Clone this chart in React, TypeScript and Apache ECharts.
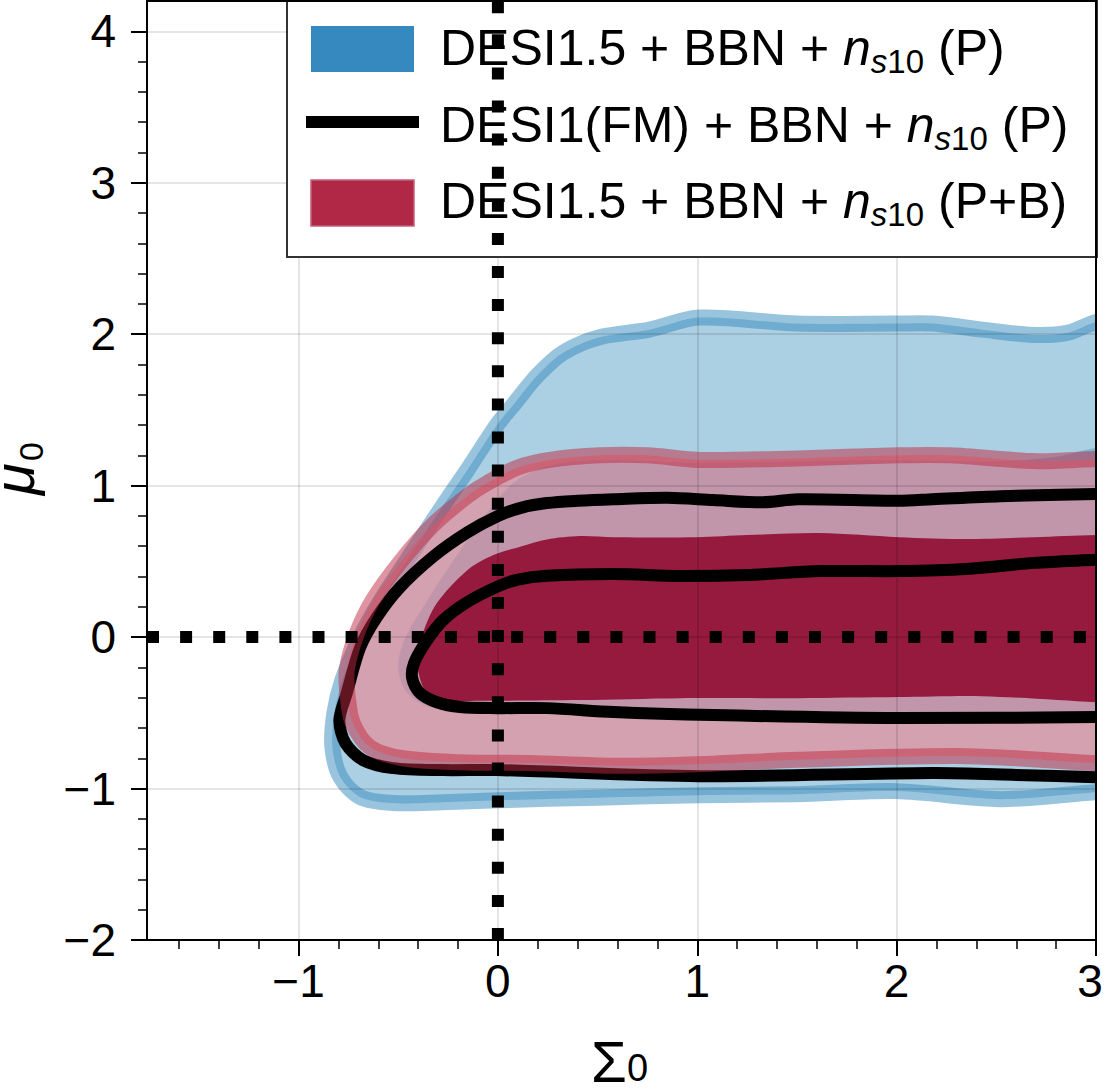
import React, { useEffect, useRef } from 'react';
import * as echarts from 'echarts';

const FONT = '"Liberation Sans", Arial, Helvetica, sans-serif';

// axis ranges
const X_MIN = -1.76;
const X_MAX = 3;
const Y_MIN = -2;
const Y_MAX = 4.2;

// tick values
const xMajorTicks = [-1, 0, 1, 2, 3];
const xMinorTicks = [-1.6, -1.4, -1.2, -0.8, -0.6, -0.4, -0.2, 0.2, 0.4, 0.6, 0.8, 1.2, 1.4, 1.6, 1.8, 2.2, 2.4, 2.6, 2.8];
const yMajorTicks = [-2, -1, 0, 1, 2, 3, 4];
const yMinorTicks = [-1.8, -1.6, -1.4, -1.2, -0.8, -0.6, -0.4, -0.2, 0.2, 0.4, 0.6, 0.8, 1.2, 1.4, 1.6, 1.8, 2.2, 2.4, 2.6, 2.8, 3.2, 3.4, 3.6, 3.8];

// reference lines
const REF_SIGMA0 = 0;
const REF_MU0 = 0;

// DESI1.5 + BBN + ns10 (P): 95% and 68% contours (Sigma0, mu0)
const blue95 = [
  [3.15, 2.1], [3.0, 2.08], [2.86, 2.01], [2.69, 1.995], [2.43, 2.03], [2.18, 2.07], [2.0, 2.07], [1.5, 2.07],
  [1.01, 2.11], [0.76, 2.03], [0.51, 1.98], [0.33, 1.88], [0.2, 1.73], [0.075, 1.53], [-0.005, 1.4],
  [-0.155, 1.1], [-0.256, 0.905], [-0.356, 0.707], [-0.49, 0.44], [-0.607, 0.2], [-0.69, 0.0],
  [-0.78, -0.284], [-0.82, -0.5], [-0.83, -0.727], [-0.79, -0.925], [-0.69, -1.057], [-0.527, -1.096],
  [-0.276, -1.09], [0.0, -1.077], [0.5, -1.06], [1.01, -1.044], [1.5, -1.037], [2.0, -1.017],
  [2.52, -1.07], [3.0, -1.024], [3.15, -1.02],
];
const blue68 = [
  [3.15, 1.27], [3.0, 1.25], [2.8, 1.19], [2.5, 1.16], [2.0, 1.17], [1.5, 1.16], [1.0, 1.15], [0.5, 1.17],
  [0.25, 1.13], [0.08, 1.02], [-0.055, 0.82], [-0.2, 0.55], [-0.35, 0.25], [-0.47, -0.02], [-0.5, -0.2],
  [-0.46, -0.36], [-0.35, -0.46], [-0.15, -0.49], [0.0, -0.49], [0.5, -0.5], [1.0, -0.52], [1.5, -0.53],
  [2.0, -0.53], [2.5, -0.53], [3.0, -0.52], [3.15, -0.52],
];

// DESI1.5 + BBN + ns10 (P+B): 95% and 68% contours
const red95 = [
  [3.15, 1.18], [3.0, 1.176], [2.69, 1.162], [2.27, 1.2], [2.01, 1.2], [1.5, 1.18], [1.01, 1.17],
  [0.75, 1.2], [0.51, 1.2], [0.26, 1.17], [0.1, 1.12], [-0.05, 1.02], [-0.155, 0.93], [-0.326, 0.74],
  [-0.49, 0.495], [-0.627, 0.244], [-0.707, 0.026], [-0.758, -0.218], [-0.753, -0.396], [-0.728, -0.568],
  [-0.642, -0.727], [-0.477, -0.8], [-0.19, -0.826], [0.16, -0.832], [0.58, -0.85], [1.0, -0.84],
  [1.5, -0.81], [2.35, -0.786], [3.0, -0.832], [3.15, -0.835],
];
const red68 = [
  [3.15, 0.68], [3.0, 0.674], [2.69, 0.66], [2.35, 0.647], [2.01, 0.66], [1.615, 0.687], [1.25, 0.674],
  [1.0, 0.66], [0.58, 0.66], [0.41, 0.667], [0.246, 0.645], [0.12, 0.6], [-0.025, 0.54], [-0.155, 0.44],
  [-0.306, 0.225], [-0.376, 0.026], [-0.406, -0.152], [-0.366, -0.35], [-0.266, -0.416], [-0.09, -0.42],
  [0.41, -0.416], [0.913, -0.403], [1.505, -0.403], [2.01, -0.396], [2.43, -0.39], [3.0, -0.43], [3.15, -0.43],
];

// DESI1(FM) + BBN + ns10 (P): 95% and 68% contour lines
const fm95 = [
  [3.15, 0.95], [3.0, 0.945], [2.52, 0.93], [2.18, 0.91], [2.01, 0.9], [1.505, 0.91], [1.33, 0.89],
  [1.08, 0.905], [0.85, 0.92], [0.58, 0.91], [0.4, 0.9], [0.246, 0.885], [0.12, 0.855], [0.0, 0.8],
  [-0.155, 0.69], [-0.326, 0.53], [-0.49, 0.33], [-0.607, 0.132], [-0.69, -0.066], [-0.758, -0.37],
  [-0.795, -0.548], [-0.765, -0.7], [-0.677, -0.812], [-0.527, -0.865], [-0.276, -0.878], [-0.005, -0.878],
  [1.01, -0.918], [2.18, -0.898], [2.6, -0.91], [3.0, -0.925], [3.15, -0.93],
];
const fm68 = [
  [3.15, 0.52], [3.0, 0.51], [2.69, 0.49], [2.35, 0.45], [2.01, 0.436], [1.615, 0.436], [1.25, 0.41],
  [0.913, 0.403], [0.58, 0.416], [0.246, 0.405], [0.1, 0.38], [0.0, 0.335], [-0.155, 0.23],
  [-0.276, 0.11], [-0.36, -0.03], [-0.42, -0.17], [-0.43, -0.27], [-0.39, -0.37], [-0.306, -0.43],
  [-0.19, -0.462], [-0.005, -0.469], [0.246, -0.469], [0.58, -0.495], [1.08, -0.515], [2.01, -0.535],
  [3.0, -0.528], [3.15, -0.53],
];

// legend
const legendMain = ['DESI1.5 + BBN + ', 'DESI1(FM) + BBN + ', 'DESI1.5 + BBN + '];
const legendTail = ['(P)', '(P)', '(P+B)'];

const BLUE95_FILL = '#abcfe3';
const BLUE68_FILL = '#7fb3d5';
const BLUE_EDGE = 'rgba(52,138,189,0.5)';
const RED95_FILL = 'rgba(242,128,139,0.58)';
const RED68_FILL = '#951a3d';
const RED_EDGE = 'rgba(191,42,64,0.5)';

const fmt = (v: number) => String(v).replace('-', '\u2212');
const fmtX = (v: number) => (v === xMajorTicks[xMajorTicks.length - 1] ? `{edge|${fmt(v)}}` : fmt(v));

function shapeSeries(pts: number[][], o: { closed: boolean; fill?: string; stroke?: string; width?: number; z: number }) {
  return {
    type: 'custom',
    xAxisIndex: 1,
    yAxisIndex: 1,
    z: o.z,
    clip: true,
    silent: true,
    data: [[pts[0][0], pts[0][1]]],
    renderItem: (params: any, api: any) => ({
      type: o.closed ? 'polygon' : 'polyline',
      shape: { points: pts.map((p) => api.coord(p)), smooth: 0.3 },
      style: {
        fill: o.fill ?? null,
        stroke: o.stroke ?? null,
        lineWidth: o.width ?? 0,
        lineJoin: 'round',
      },
    }),
  };
}

function legendText(i: number) {
  return `{m|${legendMain[i]}}{it|n}{subit|s}{sub|10}{tail|${legendTail[i]}}`;
}

const richStyles = {
  m: { fontSize: 50, fontFamily: FONT, fill: '#000', lineHeight: 60 },
  it: { fontSize: 50, fontFamily: FONT, fontStyle: 'italic', fill: '#000', lineHeight: 60 },
  subit: { fontSize: 33, fontFamily: FONT, fontStyle: 'italic', fill: '#000', lineHeight: 28, verticalAlign: 'bottom' },
  sub: { fontSize: 33, fontFamily: FONT, fill: '#000', lineHeight: 28, verticalAlign: 'bottom' },
  tail: { fontSize: 50, fontFamily: FONT, fill: '#000', lineHeight: 60, padding: [0, 0, 0, 14] },
};

export default function App() {
  const ref = useRef<HTMLDivElement>(null);
  useEffect(() => {
    if (!ref.current) return;
    document.body.style.margin = '0';
    document.documentElement.style.overflow = 'hidden';
    document.body.style.overflow = 'hidden';
    const chart = echarts.init(ref.current, null, { renderer: 'svg' });
    const axisLine = { show: true, onZero: false, lineStyle: { color: '#000', width: 2 } };
    const hidden = { show: false };
    const baseX = { type: 'value', min: X_MIN, max: X_MAX, gridIndex: 0 };
    const baseY = { type: 'value', min: Y_MIN, max: Y_MAX, gridIndex: 0 };
    const option: any = {
      animation: false,
      backgroundColor: '#fff',
      grid: { left: 147, right: 9, top: 1, bottom: 152, containLabel: false, outerBoundsMode: 'none' },
      xAxis: [
        { ...baseX, position: 'bottom', z: 5, axisLine: { show: false, onZero: false }, axisTick: { show: false, customValues: xMajorTicks }, axisLabel: hidden, splitLine: { show: true, lineStyle: { color: 'rgba(0,0,0,0.1)', width: 2 } } },
        {
          ...baseX, position: 'bottom', z: 10, axisLine,
          axisTick: { show: true, inside: false, customValues: xMajorTicks, length: 16, lineStyle: { color: '#000', width: 2 } },
          axisLabel: {
            show: true, customValues: xMajorTicks, formatter: fmtX, fontSize: 46, fontFamily: FONT, color: '#000', margin: 18,
            rich: { edge: { fontSize: 46, fontFamily: FONT, color: '#000', padding: [0, 12, 0, 0] } },
          },
          splitLine: hidden,
        },
        { ...baseX, position: 'bottom', z: 10, axisLine: { show: false, onZero: false }, axisTick: { show: true, inside: false, customValues: xMinorTicks, length: 9, lineStyle: { color: '#000', width: 1.5 } }, axisLabel: hidden, splitLine: hidden },
        { ...baseX, position: 'top', z: 10, axisLine, axisTick: hidden, axisLabel: hidden, splitLine: hidden },
      ],
      yAxis: [
        { ...baseY, position: 'left', z: 5, axisLine: { show: false, onZero: false }, axisTick: { show: false, customValues: yMajorTicks }, axisLabel: hidden, splitLine: { show: true, lineStyle: { color: 'rgba(0,0,0,0.1)', width: 2 } } },
        { ...baseY, position: 'left', z: 10, axisLine, axisTick: { show: true, inside: false, customValues: yMajorTicks, length: 16, lineStyle: { color: '#000', width: 2 } }, axisLabel: { show: true, customValues: yMajorTicks, formatter: fmt, fontSize: 46, fontFamily: FONT, color: '#000', margin: 31 }, splitLine: hidden },
        { ...baseY, position: 'left', z: 10, axisLine: { show: false, onZero: false }, axisTick: { show: true, inside: false, customValues: yMinorTicks, length: 9, lineStyle: { color: '#000', width: 1.5 } }, axisLabel: hidden, splitLine: hidden },
        { ...baseY, position: 'right', z: 10, axisLine, axisTick: hidden, axisLabel: hidden, splitLine: hidden },
      ],
      series: [
        shapeSeries(blue95, { closed: true, fill: BLUE95_FILL, stroke: BLUE_EDGE, width: 16, z: 1 }),
        shapeSeries(blue68, { closed: true, fill: BLUE68_FILL, z: 2 }),
        shapeSeries(red95, { closed: true, fill: RED95_FILL, z: 3 }),
        shapeSeries(red68, { closed: true, fill: RED68_FILL, z: 4 }),
        shapeSeries(fm95, { closed: false, stroke: '#000', width: 12, z: 6 }),
        shapeSeries(fm68, { closed: false, stroke: '#000', width: 12, z: 6 }),
        shapeSeries(red95, { closed: true, stroke: RED_EDGE, width: 16, z: 7 }),
        {
          type: 'line', xAxisIndex: 1, yAxisIndex: 1, z: 9, silent: true, symbol: 'none',
          data: [[REF_SIGMA0, Y_MIN], [REF_SIGMA0, Y_MAX]],
          lineStyle: { color: '#000', width: 12, type: [12, 21.1], cap: 'butt' },
        },
        {
          type: 'line', xAxisIndex: 1, yAxisIndex: 1, z: 9, silent: true, symbol: 'none',
          data: [[X_MIN, REF_MU0], [X_MAX, REF_MU0]],
          lineStyle: { color: '#000', width: 12, type: [12, 21.1], cap: 'butt' },
        },
      ],
      graphic: {
        elements: [
          { type: 'rect', z: 8, shape: { x: 287, y: 1, width: 810, height: 256 }, style: { fill: '#fff', stroke: '#333', lineWidth: 2 } },
          { type: 'rect', z: 8, shape: { x: 311, y: 26, width: 103, height: 46 }, style: { fill: '#3689be' } },
          { type: 'line', z: 8, shape: { x1: 306, y1: 122, x2: 419, y2: 122 }, style: { stroke: '#000', lineWidth: 12 } },
          { type: 'rect', z: 8, shape: { x: 311, y: 180, width: 103, height: 46 }, style: { fill: '#b12847', stroke: '#c4607a', lineWidth: 1.5 } },
          { type: 'text', z: 8, x: 440, y: 48, style: { text: legendText(0), rich: richStyles, align: 'left', verticalAlign: 'middle' } },
          { type: 'text', z: 8, x: 440, y: 125, style: { text: legendText(1), rich: richStyles, align: 'left', verticalAlign: 'middle' } },
          { type: 'text', z: 8, x: 440, y: 201, style: { text: legendText(2), rich: richStyles, align: 'left', verticalAlign: 'middle' } },
          // x axis title
          { type: 'text', z: 10, x: 591, y: 1061, style: { text: '\u03A3', fontSize: 58, fontFamily: FONT, fill: '#000', align: 'left', verticalAlign: 'middle' } },
          { type: 'text', z: 10, x: 627, y: 1068, style: { text: '0', fontSize: 38, fontFamily: FONT, fill: '#000', align: 'left', verticalAlign: 'middle' } },
          // y axis title (rotated)
          {
            type: 'group', z: 10, x: 13, y: 469, rotation: Math.PI / 2,
            children: [
              { type: 'text', z: 10, x: -26, y: 0, style: { text: '\u03BC', fontSize: 58, fontFamily: FONT, fontStyle: 'italic', fill: '#000', align: 'left', verticalAlign: 'middle' } },
              { type: 'text', z: 10, x: 8, y: 18, style: { text: '0', fontSize: 34, fontFamily: FONT, fill: '#000', align: 'left', verticalAlign: 'middle' } },
            ],
          },
        ],
      },
    };
    chart.setOption(option);
    return () => chart.dispose();
  }, []);
  return <div ref={ref} style={{ position: 'absolute', left: 0, top: 0, width: 1105, height: 1092 }} />;
}
